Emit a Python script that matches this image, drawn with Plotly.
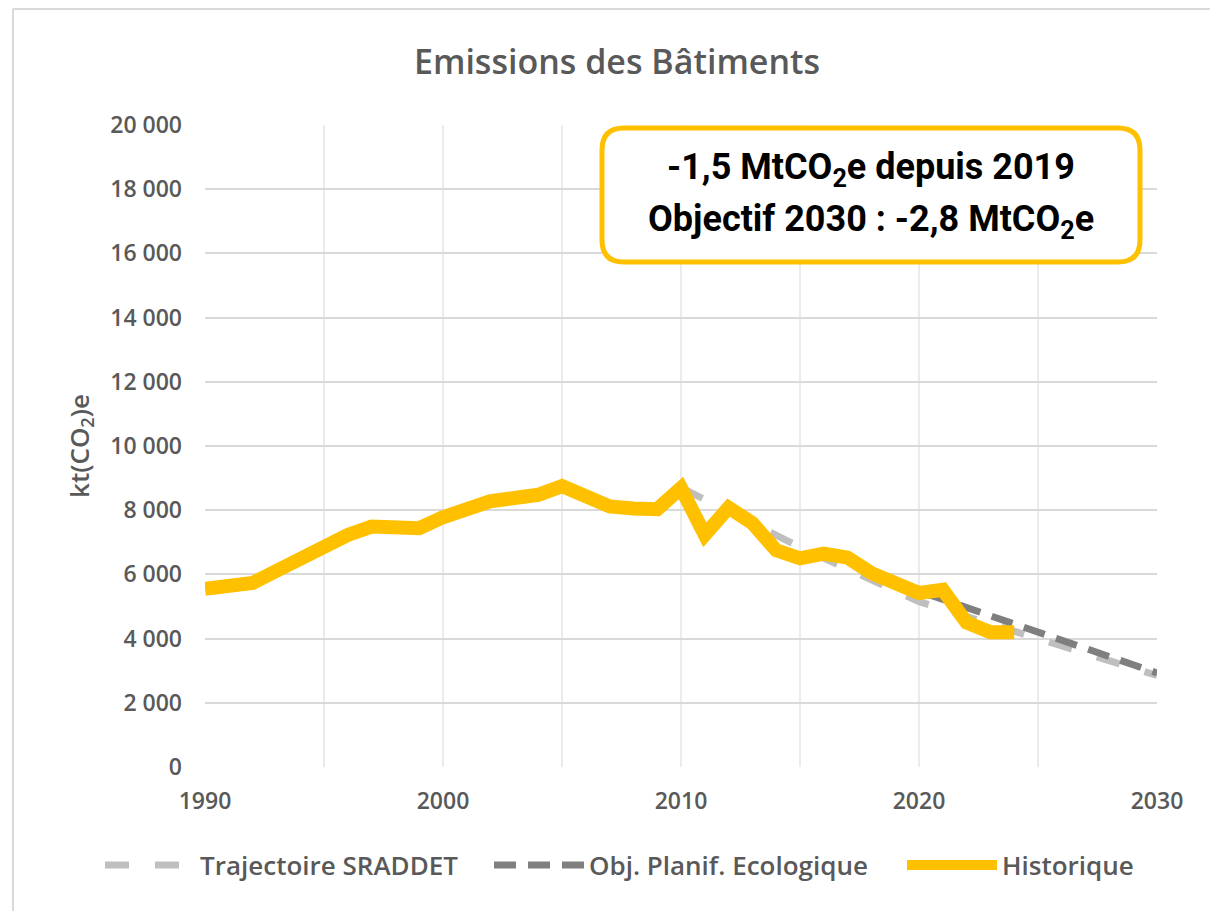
import plotly.graph_objects as go

# ---- data ----
years_hist = list(range(1990, 2025))
historique = [5550, 5640, 5730, 6110, 6510, 6915, 7230, 7490, 7430, 7440,
              7780, 8020, 8280, 8380, 8480, 8750, 8380, 8120, 8050, 8030,
              8690, 7230, 8080, 7600, 6750, 6500, 6650, 6520, 6040, 5730,
              5420, 5520, 4500, 4200, 4200]
years_sraddet = [2010, 2015, 2020, 2030]
sraddet = [8700, 6850, 5150, 2850]
years_obj = [2019, 2030]
obj_planif = [5730, 2930]

x_ticks = [1990, 2000, 2010, 2020, 2030]
series_names = ["Trajectoire SRADDET", "Obj. Planif. Ecologique", "Historique"]
title_text = "Emissions des Bâtiments"
y_title = "kt(CO<sub>2</sub>)e"
box_lines = ["-1,5 MtCO<sub>2</sub>e depuis 2019",
             "Objectif 2030 : -2,8 MtCO<sub>2</sub>e"]

# ---- geometry ----
W, H = 1210, 911
L, R, T, B = 205, 53, 125, 144
PW, PH = W - L - R, H - T - B

def px(x):
    return (x - L) / PW

def py(y):
    return (H - B - y) / PH

GRAY_TXT = "#595959"
FONT = "Open Sans"
ITEMW = 90

fig = go.Figure()
fig.add_trace(go.Scatter(x=years_sraddet, y=sraddet, mode="lines", name=series_names[0],
                         legendwidth=389 - ITEMW - 15,
                         line=dict(color="#BFBFBF", width=7, dash="24px,26px")))
fig.add_trace(go.Scatter(x=years_obj, y=obj_planif, mode="lines", name=series_names[1],
                         legendwidth=413 - ITEMW - 15,
                         line=dict(color="#7F7F7F", width=7, dash="22px,12px")))
fig.add_trace(go.Scatter(x=years_hist, y=historique, mode="lines", name=series_names[2],
                         legendwidth=140,
                         line=dict(color="#FFC000", width=14)))

# rounded box
x0, x1 = px(602), px(1140)
y1, y0 = py(128), py(262)
rx, ry = 22 / PW, 22 / PH
path = (f"M {x0+rx},{y1} L {x1-rx},{y1} Q {x1},{y1} {x1},{y1-ry} "
        f"L {x1},{y0+ry} Q {x1},{y0} {x1-rx},{y0} L {x0+rx},{y0} "
        f"Q {x0},{y0} {x0},{y0+ry} L {x0},{y1-ry} Q {x0},{y1} {x0+rx},{y1} Z")
shapes = [
    dict(type="path", xref="paper", yref="paper", path=path,
         line=dict(color="#FFC000", width=5), fillcolor="white", layer="above"),
    # outer chart border (top and left)
    dict(type="line", xref="paper", yref="paper", x0=px(13), x1=px(1210), y0=py(9), y1=py(9),
         line=dict(color="#D9D9D9", width=2)),
    dict(type="line", xref="paper", yref="paper", x0=px(13), x1=px(13), y0=py(9), y1=py(911),
         line=dict(color="#D9D9D9", width=2)),
]

annotations = []
for txt, yc in zip(box_lines, [169, 222]):
    annotations.append(dict(text=txt, xref="paper", yref="paper", x=px(871), y=py(yc),
                            xanchor="center", yanchor="middle", showarrow=False,
                            font=dict(family="Roboto", size=36, color="black", weight="bold")))

fig.update_layout(
    width=W, height=H,
    margin=dict(l=L, r=R, t=T, b=B, pad=0, autoexpand=False),
    paper_bgcolor="white", plot_bgcolor="white",
    separators=", ",
    title=dict(text=title_text, x=617 / W, y=1 - 62 / H, xref="container", yref="container",
               xanchor="center", yanchor="middle",
               font=dict(family=FONT, size=34, color=GRAY_TXT, weight=600)),
    xaxis=dict(range=[1990, 2030], tickvals=x_ticks, showgrid=True, gridcolor="#EBEBEB",
               gridwidth=2, zeroline=False, showline=False, ticks="",
               ticklabelstandoff=18,
               minor=dict(dtick=5, tick0=1990, showgrid=True, gridcolor="#EBEBEB", gridwidth=2),
               tickfont=dict(family=FONT, size=23, color=GRAY_TXT, weight=600)),
    yaxis=dict(range=[0, 20000], dtick=2000, tickformat=",d", showgrid=True,
               gridcolor="#D9D9D9", gridwidth=2, zeroline=False, showline=False, ticks="",
               ticklabelstandoff=22,
               tickfont=dict(family=FONT, size=23, color=GRAY_TXT, weight=600),
               title=dict(text=y_title, standoff=13,
                          font=dict(family=FONT, size=26, color=GRAY_TXT, weight=600))),
    legend=dict(orientation="h", xref="paper", yref="paper", x=px(100),
                y=py(865), xanchor="left", yanchor="middle", itemwidth=ITEMW,
                font=dict(family=FONT, size=26, color=GRAY_TXT, weight=600),
                traceorder="normal"),
    shapes=shapes,
    annotations=annotations,
)

fig.write_html("out.html", config={"displayModeBar": False},
               post_script="document.body.style.margin='0';")
